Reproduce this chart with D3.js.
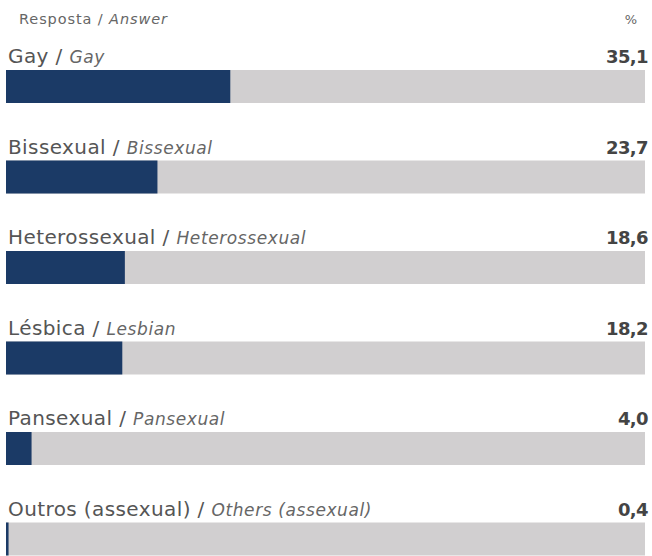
<!DOCTYPE html>
<html>
<head>
<meta charset="utf-8">
<script src="https://cdn.jsdelivr.net/npm/d3@7"></script>
<style>
  body { margin: 0; background: #fff; }
  svg { display: block; }
  text { font-family: "DejaVu Sans", sans-serif; fill: #555; }
</style>
</head>
<body>
<div id="chart"></div>
<script>
// data
const labelsPt = ["Gay", "Bissexual", "Heterossexual", "Lésbica", "Pansexual", "Outros (assexual)"];
const labelsEn = ["Gay", "Bissexual", "Heterossexual", "Lesbian", "Pansexual", "Others (assexual)"];
const values = [35.1, 23.7, 18.6, 18.2, 4.0, 0.4];

const fullWidth = 652;
const fullHeight = 556;

const svg = d3.select("#chart").append("svg")
    .attr("width", fullWidth)
    .attr("height", fullHeight);

const x = d3.scaleLinear()
    .domain([0, 100])
    .range([6, 645]);

const y = d3.scaleBand()
    .domain(d3.range(values.length))
    .range([70, 70 + 90.5 * values.length])
    .paddingInner(0)
    .paddingOuter(0);

const barH = 33;
const fmt = v => d3.format(".1f")(v).replace(".", ",");

// header
const head = svg.append("text")
    .attr("x", 19)
    .attr("y", 24)
    .style("font-size", "14.5px")
    .style("letter-spacing", "0.9px")
    .style("fill", "#666");
head.append("tspan").text("Resposta / ");
head.append("tspan").style("font-style", "italic").text("Answer");

svg.append("text")
    .attr("x", 637)
    .attr("y", 24)
    .attr("text-anchor", "end")
    .style("font-size", "13px")
    .style("fill", "#666")
    .text("%");

const rows = svg.selectAll("g.row")
    .data(values)
    .enter().append("g")
    .attr("class", "row")
    .attr("transform", (d, i) => `translate(0,${y(i)})`);

// track
rows.append("rect")
    .attr("x", x(0))
    .attr("y", 0)
    .attr("width", x(100) - x(0))
    .attr("height", barH)
    .attr("fill", "#d1cfd0");

// value bar
rows.append("rect")
    .attr("x", x(0))
    .attr("y", 0)
    .attr("width", d => Math.max(2, x(d) - x(0)))
    .attr("height", barH)
    .attr("fill", "#1b3a66");

// label
const lab = rows.append("text")
    .attr("x", 8)
    .attr("y", -7)
    .style("font-size", "20px")
    .style("letter-spacing", "0.4px");
lab.append("tspan").text((d, i) => labelsPt[i] + " / ");
lab.append("tspan")
    .style("font-style", "italic")
    .style("font-size", "17px")
    .style("letter-spacing", "0.6px")
    .style("fill", "#666")
    .text((d, i) => labelsEn[i]);

// value
rows.append("text")
    .attr("x", 648)
    .attr("y", -7)
    .attr("text-anchor", "end")
    .style("font-size", "18px")
    .style("font-weight", "bold")
    .style("letter-spacing", "-0.6px")
    .style("fill", "#444")
    .text(d => fmt(d));
</script>
</body>
</html>
